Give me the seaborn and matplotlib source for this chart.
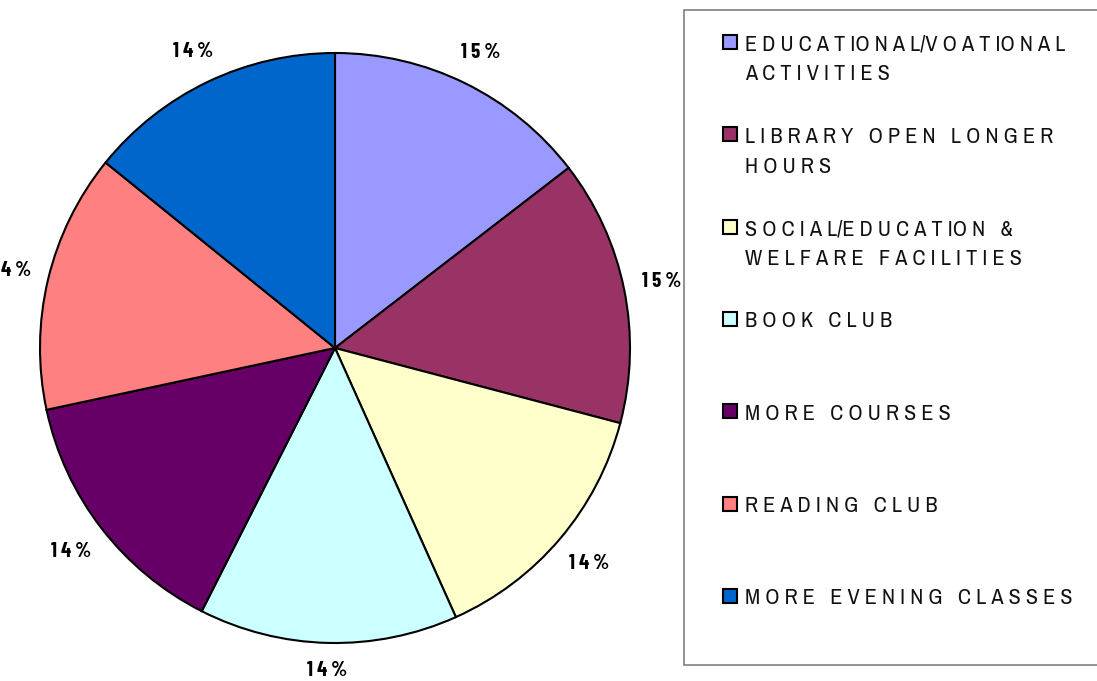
import matplotlib
matplotlib.use("Agg")
import numpy as np
import matplotlib.pyplot as plt
import seaborn as sns
from matplotlib.patches import Rectangle

categories = [
    "EDUCATIONAL/VOATIONAL\nACTIVITIES",
    "LIBRARY OPEN LONGER\nHOURS",
    "SOCIAL/EDUCATION &\nWELFARE FACILITIES",
    "BOOK CLUB",
    "MORE COURSES",
    "READING CLUB",
    "MORE EVENING CLASSES",
]
values = [14.55, 14.55, 14.18, 14.18, 14.18, 14.18, 14.18]
colors = ["#9999FF", "#993366", "#FFFFCC", "#CCFFFF", "#660066", "#FF8080", "#0066CC"]

sns.set_theme(style="white")
plt.rcParams["font.family"] = ["Archivo Narrow", "Liberation Sans", "DejaVu Sans"]
LABEL_FONT = ["Barlow Condensed", "Liberation Sans", "DejaVu Sans"]


def spaced(line):
    out = []
    for w in line.split(" "):
        s = ""
        for i, ch in enumerate(w):
            if i > 0:
                prev = w[i - 1]
                if not (ch == "/" or prev == "/" or (prev == "I" and ch == "O")):
                    s += " "
            s += ch
        out.append(s)
    return "   ".join(out)


fig = plt.figure(figsize=(10.97, 6.81), dpi=100)
W, H = 1097, 681
R = 295.0
ax = fig.add_axes([40 / W, (H - 643) / H, 590 / W, 590 / H])

wedges = ax.pie(
    values, colors=colors, startangle=90, counterclock=False,
    wedgeprops=dict(edgecolor="black", linewidth=1.5),
)[0]

total = sum(values)
ang = 90.0
for v in values:
    span = 360 * v / total
    mid = np.radians(ang - span / 2)
    ang -= span
    d = 1 + (19 + 18 * abs(np.cos(mid)) + 8 * abs(np.sin(mid))) / R
    ax.text(d * np.cos(mid), d * np.sin(mid),
            " ".join(f"{100 * v / total:.0f}%"), ha="center", va="center",
            fontsize=15, fontweight="bold", family=LABEL_FONT,
            color="black", clip_on=False)
ax.set_xlim(-1, 1)
ax.set_ylim(-1, 1)
ax.set_aspect("equal")
ax.axis("off")

# legend box
frame = Rectangle((684 / W, (H - 665) / H), (1100 - 684) / W, (665 - 10) / H,
                  transform=fig.transFigure, facecolor="white",
                  edgecolor="#808080", linewidth=1.2)
fig.patches.append(frame)
top = 42
step = 92.3
for i, (cat, c) in enumerate(zip(categories, colors)):
    yc = top + i * step
    sq = Rectangle((723 / W, (H - yc - 7) / H), 14 / W, 14 / H,
                   transform=fig.transFigure, facecolor=c,
                   edgecolor="black", linewidth=1.5)
    fig.patches.append(sq)
    for j, line in enumerate(cat.split("\n")):
        fig.text(745 / W, (H - yc - 8.5 - 30 * j) / H, spaced(line),
                 ha="left", va="baseline", fontsize=16, color="#111111")

fig.savefig("out.png", dpi=100)
